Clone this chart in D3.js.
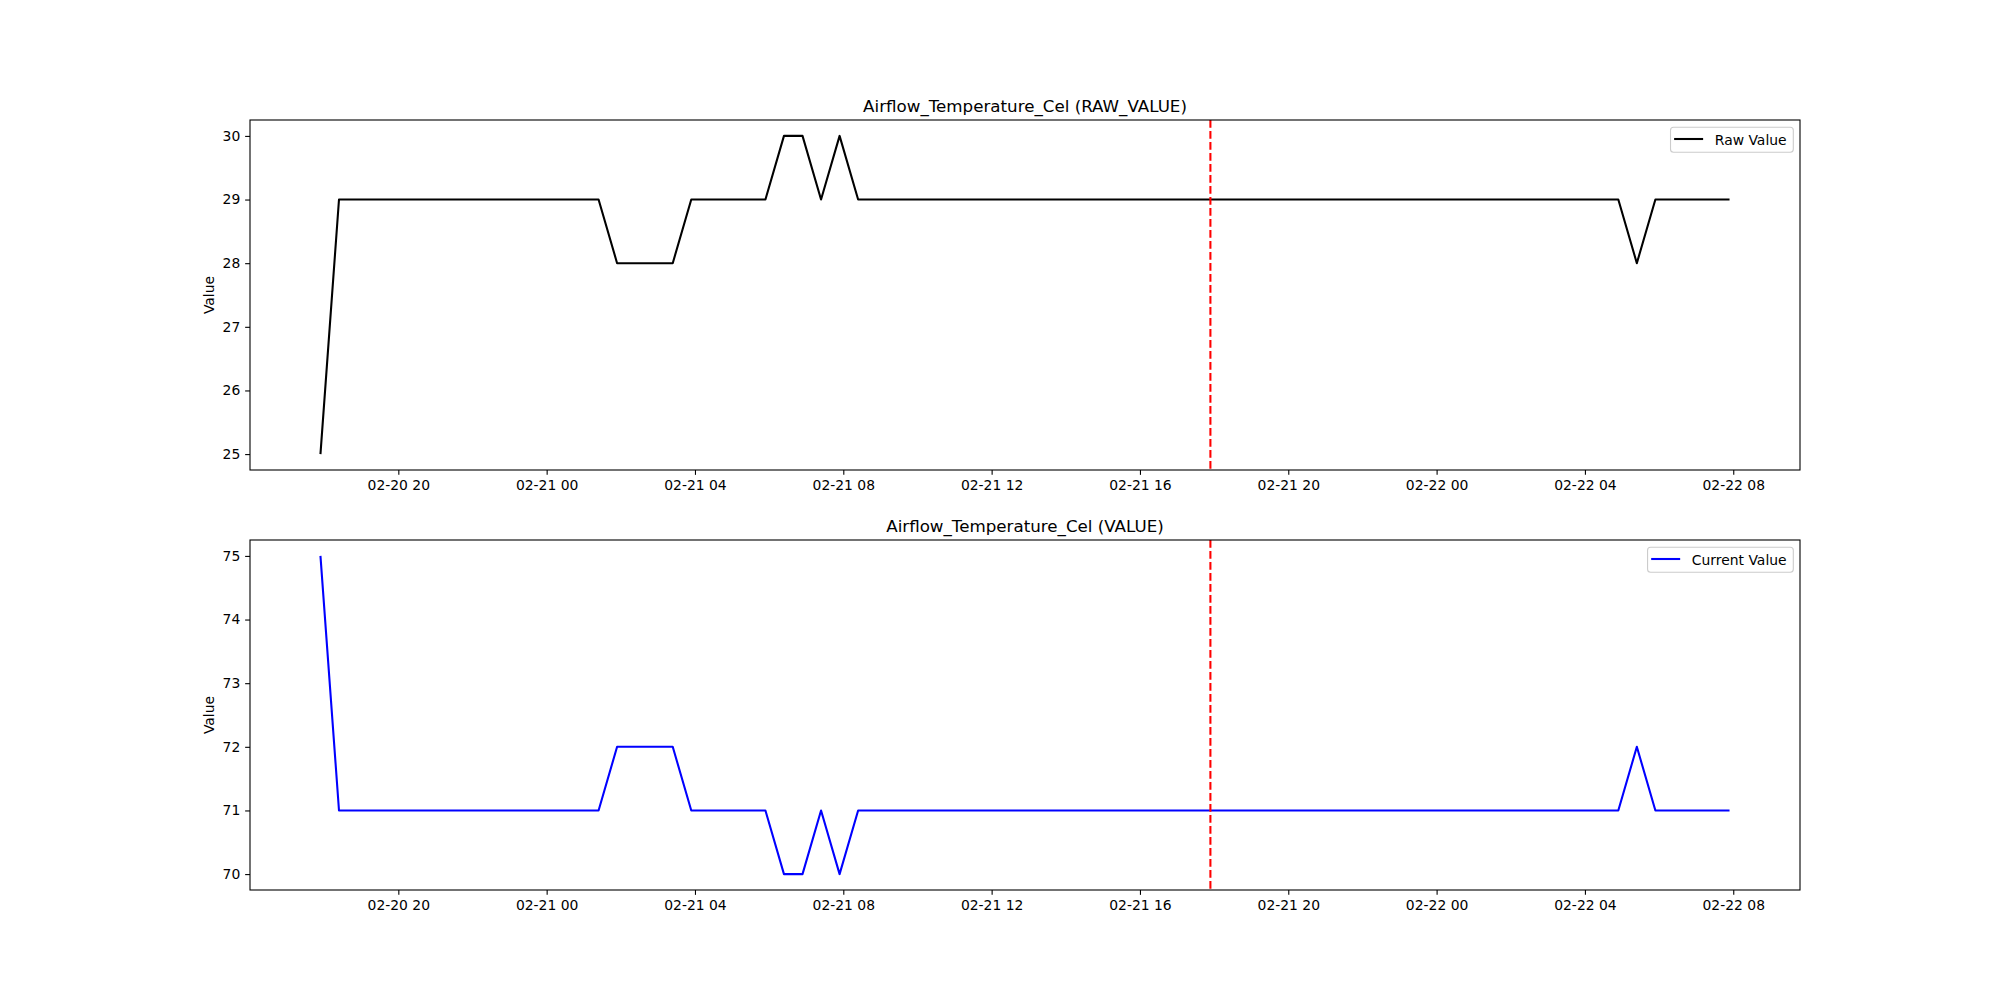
<!DOCTYPE html>
<html>
<head>
<meta charset="utf-8">
<script src="https://cdn.jsdelivr.net/npm/d3@7"></script>
<style>
  html, body { margin: 0; padding: 0; background: #fff; }
  svg { display: block; font-family: "DejaVu Sans", sans-serif; }
</style>
</head>
<body>
<svg id="chart" width="2000" height="1000"></svg>
<script>
// ---- Data ----
const startTime = "2024-02-20T17:54:00Z";   // first sample
const stepMinutes = 30;                      // sampling interval
const markerTime = "2024-02-21T17:54:00Z";  // red dashed line

const rawValues = [
  25,
  29,29,29,29,29,29,29,29,29,29,29,29,29,29,29,
  28,28,28,28,
  29,29,29,29,29,
  30,30,29,30,
  29,29,29,29,29,29,29,29,29,29,29,29,29,29,29,29,29,29,29,29,29,
  29,29,29,29,29,29,29,29,29,29,29,29,29,29,29,29,29,29,29,29,29,
  28,
  29,29,29,29,29
];
const currentValues = [
  75,
  71,71,71,71,71,71,71,71,71,71,71,71,71,71,71,
  72,72,72,72,
  71,71,71,71,71,
  70,70,71,70,
  71,71,71,71,71,71,71,71,71,71,71,71,71,71,71,71,71,71,71,71,71,
  71,71,71,71,71,71,71,71,71,71,71,71,71,71,71,71,71,71,71,71,71,
  72,
  71,71,71,71,71
];
const rawTicks = [25, 26, 27, 28, 29, 30];
const currentTicks = [70, 71, 72, 73, 74, 75];

const panels = [
  { title: "Airflow_Temperature_Cel (RAW_VALUE)", values: rawValues, ticks: rawTicks, color: "#000000", label: "Raw Value", top: 120 },
  { title: "Airflow_Temperature_Cel (VALUE)", values: currentValues, ticks: currentTicks, color: "#0000ff", label: "Current Value", top: 540 }
];

// ---- Layout ----
const left = 250, right = 1800, ph = 350;
const t0 = new Date(startTime);
const times = rawValues.map((_, i) => new Date(t0.getTime() + i * stepMinutes * 60000));
const tExt = d3.extent(times);
const span = tExt[1] - tExt[0];
const x = d3.scaleUtc()
  .domain([new Date(+tExt[0] - 0.05 * span), new Date(+tExt[1] + 0.05 * span)])
  .range([left, right]);
const fmt = d3.utcFormat("%m-%d %H");
const xTickVals = x.ticks(d3.utcHour.every(4)).filter(t => x(t) > left + 2 && x(t) < right - 2);
const svg = d3.select("#chart");
const tickLen = 4.86, pad = 4.86;

panels.forEach(p => {
  const top = p.top, bottom = top + ph;
  const ext = d3.extent(p.values);
  const yr = ext[1] - ext[0];
  const y = d3.scaleLinear().domain([ext[0] - 0.05 * yr, ext[1] + 0.05 * yr]).range([bottom, top]);
  const g = svg.append("g");

  // line
  const line = d3.line().x((d, i) => x(times[i])).y(d => y(d));
  g.append("path").datum(p.values)
    .attr("d", line).attr("fill", "none")
    .attr("stroke", p.color).attr("stroke-width", 2.08)
    .attr("stroke-linejoin", "round").attr("stroke-linecap", "butt");

  // marker line
  const mx = x(new Date(markerTime));
  g.append("line").attr("x1", mx).attr("x2", mx).attr("y1", top).attr("y2", bottom)
    .attr("stroke", "#ff0000").attr("stroke-width", 2.08)
    .attr("stroke-dasharray", "7.7,3.3");

  // x axis
  const xAxis = d3.axisBottom(x).tickValues(xTickVals).tickFormat(fmt)
    .tickSize(tickLen).tickPadding(pad);
  const gx = g.append("g").attr("transform", `translate(0,${bottom})`).call(xAxis);
  gx.select(".domain").remove();
  gx.selectAll("line").attr("stroke", "#000").attr("stroke-width", 1.1);
  gx.selectAll("text").attr("font-size", "13.9px").attr("fill", "#000")
    .attr("font-family", "DejaVu Sans");

  // y axis
  const yAxis = d3.axisLeft(y).tickValues(p.ticks).tickFormat(d3.format("d"))
    .tickSize(tickLen).tickPadding(pad);
  const gy = g.append("g").attr("transform", `translate(${left},0)`).call(yAxis);
  gy.select(".domain").remove();
  gy.selectAll("line").attr("stroke", "#000").attr("stroke-width", 1.1);
  gy.selectAll("text").attr("font-size", "13.9px").attr("fill", "#000")
    .attr("font-family", "DejaVu Sans");

  // frame
  g.append("rect").attr("x", left).attr("y", top).attr("width", right - left).attr("height", ph)
    .attr("fill", "none").attr("stroke", "#000").attr("stroke-width", 1.1);

  // title
  g.append("text").attr("x", (left + right) / 2).attr("y", top - 8.3)
    .attr("text-anchor", "middle").attr("font-size", "16.7px").attr("fill", "#000")
    .text(p.title);

  // y label
  g.append("text").attr("transform", `translate(${214},${(top + bottom) / 2}) rotate(-90)`)
    .attr("text-anchor", "middle").attr("font-size", "13.9px").attr("fill", "#000")
    .text("Value");

  // legend
  const lg = g.append("g");
  const txt = lg.append("text").attr("font-size", "13.9px").attr("fill", "#000")
    .attr("dominant-baseline", "central").text(p.label);
  const tw = txt.node().getComputedTextLength();
  const boxRight = 1793.3, boxTop = top + 7.3;
  const boxW = tw + 51, boxH = 25;
  const bx = boxRight - boxW;
  lg.insert("rect", "text").attr("x", bx).attr("y", boxTop).attr("width", boxW).attr("height", boxH)
    .attr("rx", 3).attr("ry", 3)
    .attr("fill", "#fff").attr("fill-opacity", 0.8).attr("stroke", "#cccccc").attr("stroke-width", 1.1);
  const ly = boxTop + 11.7;
  lg.append("line").attr("x1", bx + 3.6).attr("x2", bx + 32.6).attr("y1", ly).attr("y2", ly)
    .attr("stroke", p.color).attr("stroke-width", 2.08);
  txt.attr("x", bx + 44.3).attr("y", ly + 0.5);
});
</script>
</body>
</html>
